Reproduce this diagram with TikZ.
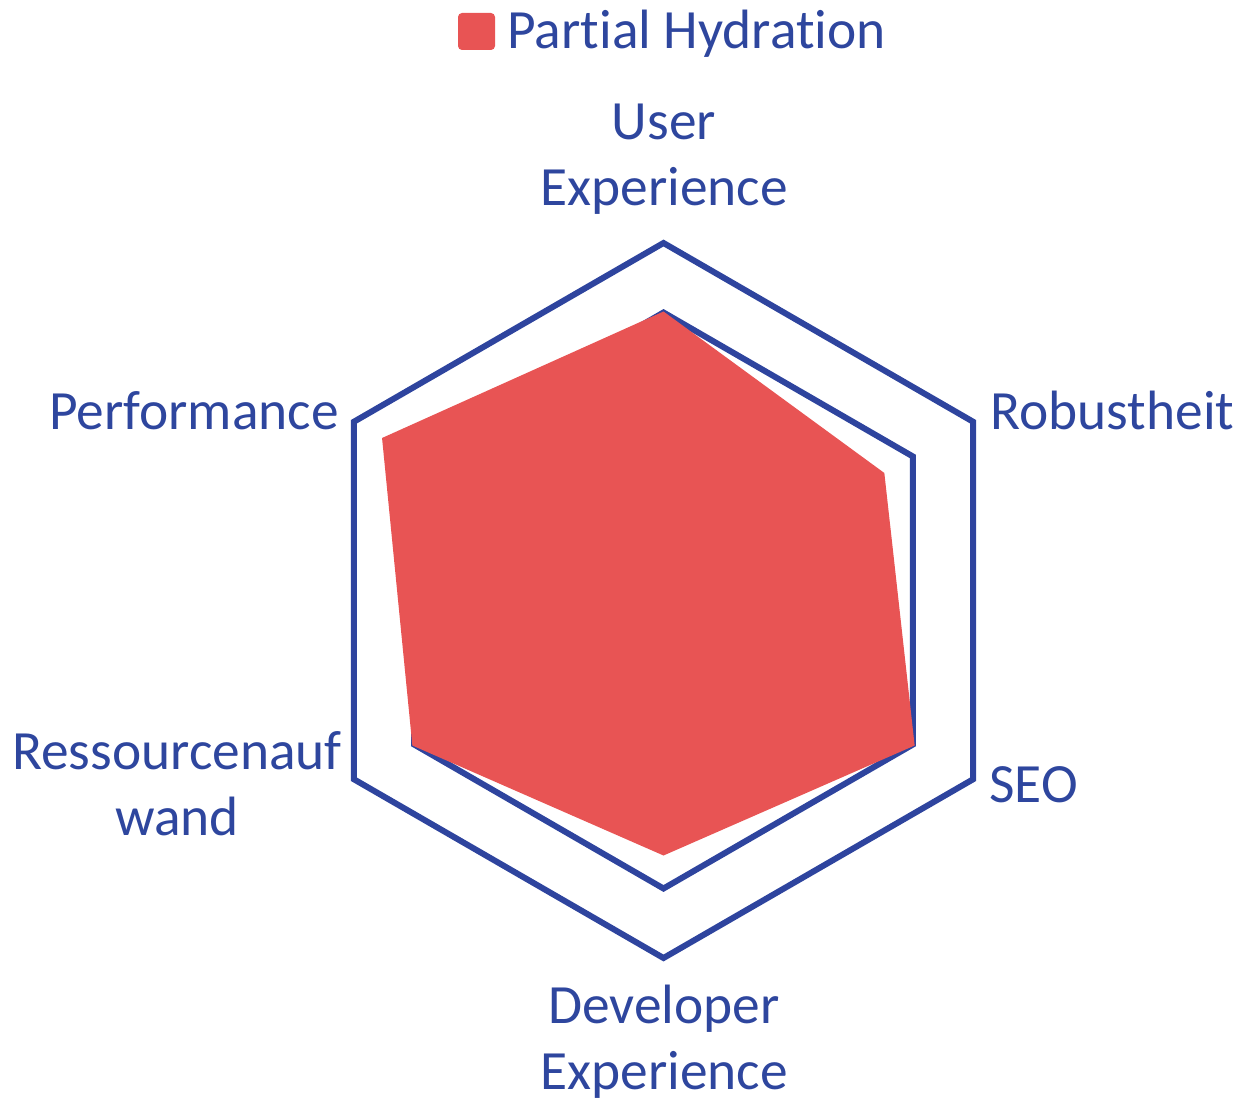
\documentclass[tikz,border=0pt]{standalone}
\usepackage{fontspec}
\setmainfont{Carlito}[Ligatures={NoCommon}]
\usetikzlibrary{calc}
\definecolor{gridblue}{RGB}{46,68,158}
\definecolor{textblue}{RGB}{46,70,158}
\definecolor{fillred}{RGB}{232,84,84}
\begin{document}
\begin{tikzpicture}[x=0.5pt,y=0.5pt,
  grid/.style={draw=gridblue,line width=3pt,line join=miter},
  series/.style={fill=fillred,draw=none},
  lbl/.style={text=textblue,font=\fontsize{27.7pt}{33pt}\selectfont,inner sep=0pt,align=center}]
\useasboundingbox (0,0) rectangle (1245,1104);
\coordinate (C) at (663.5,503.5);
% rings (levels 4 and 5)
\foreach \a/\n in {90/1,30/2,-30/3,-90/4,210/5,150/6}{
  \coordinate (o\n) at ($(C)+(\a:357.5)$);
  \coordinate (i\n) at ($(C)+(\a:288)$);
}
\draw[grid] (o1) -- (o2) -- (o3) -- (o4) -- (o5) -- (o6) -- cycle;
\draw[grid] (i1) -- (i2) -- (i3) -- (i4) -- (i5) -- (i6) -- cycle;
% data series
\coordinate (d1) at ($(C)+(90:289)$);
\coordinate (d2) at ($(C)+(30:255)$);
\coordinate (d3) at ($(C)+(-30:290)$);
\coordinate (d4) at ($(C)+(-90:255)$);
\coordinate (d5) at ($(C)+(210:290)$);
\coordinate (d6) at ($(C)+(150:325)$);
\fill[series] (d1) -- (d2) -- (d3) -- (d4) -- (d5) -- (d6) -- cycle;
% axis labels
\node[lbl,anchor=base] (ux) at (664,898) {User\\Experience};
\node[lbl,anchor=base west] (rob) at (990,674) {Robustheit};
\node[lbl,anchor=base west] (seo) at (989,302) {SEO};
\node[lbl,anchor=base] (dx) at (664,15) {Developer\\Experience};
\node[lbl,anchor=base] (res) at (177,269) {Ressourcenauf\\wand};
\node[lbl,anchor=base east] (perf) at (339,674) {Performance};
% legend
\fill[fillred,rounded corners=2pt] (458,1054) rectangle (495,1091);
\node[lbl,anchor=base west] (leg) at (507,1055) {Partial Hydration};
\end{tikzpicture}
\end{document}
